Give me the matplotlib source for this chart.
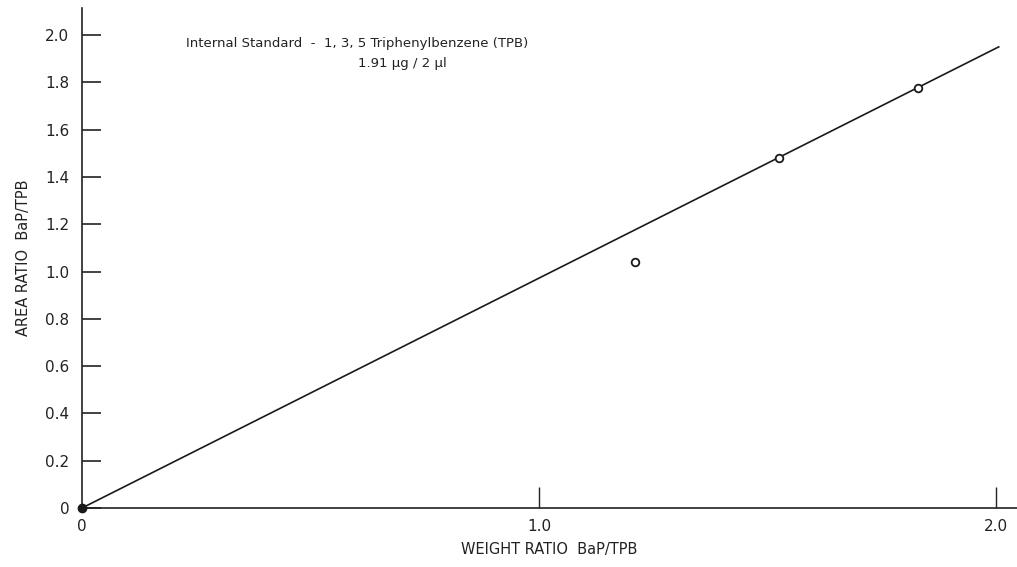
import matplotlib.pyplot as plt
import numpy as np

weight_ratio = [1.21, 1.525, 1.83]
area_ratio = [1.04, 1.48, 1.775]
fit_slope = 0.972
fit_x_end = 2.006
y_ticks = [0, 0.2, 0.4, 0.6, 0.8, 1.0, 1.2, 1.4, 1.6, 1.8, 2.0]
y_tick_labels = ['0', '0.2', '0.4', '0.6', '0.8', '1.0', '1.2', '1.4', '1.6', '1.8', '2.0']
x_ticks = [0, 1.0, 2.0]
x_tick_labels = ['0', '1.0', '2.0']

plt.rcParams['font.family'] = ['Liberation Sans Narrow', 'DejaVu Sans Condensed', 'DejaVu Sans']

fig = plt.figure(figsize=(10.17, 5.67), dpi=100)
ax = fig.add_axes([82 / 1017, 59 / 567, 935 / 1017, 500 / 567])
xmax = 935 / 457
ymax = 500 / 236.5
ax.set_xlim(0, xmax)
ax.set_ylim(0, ymax)

for s in ['top', 'right']:
    ax.spines[s].set_visible(False)
for s in ['left', 'bottom']:
    ax.spines[s].set_linewidth(1.2)
    ax.spines[s].set_color('#222222')

# calibration line through origin
xs = np.array([0, fit_x_end])
ax.plot(xs, fit_slope * xs, color='#1a1a1a', lw=1.2, clip_on=False)
ax.plot(weight_ratio, area_ratio, 'o', mfc='white', mec='#1a1a1a', mew=1.3, ms=5.5)
ax.plot([0], [0], 'o', color='#1a1a1a', ms=6, clip_on=False, zorder=5)

ax.set_yticks(y_ticks)
ax.set_yticklabels(y_tick_labels)
ax.tick_params(axis='y', direction='in', length=14, width=1.2, pad=9, labelsize=11, colors='#222222')
ax.set_xticks(x_ticks)
ax.set_xticklabels(x_tick_labels)
ax.tick_params(axis='x', direction='in', length=15, width=1.0, pad=8, labelsize=11, colors='#222222')
ax.xaxis.get_major_ticks()[0].tick1line.set_visible(False)

ax.set_xlabel('WEIGHT RATIO  BaP/TPB', fontsize=10.5, color='#222222', labelpad=6)
ax.set_ylabel('AREA RATIO  BaP/TPB', fontsize=10.5, color='#222222', labelpad=10)

fig.text(186 / 1017, 1 - 43 / 567, 'Internal Standard  -  1, 3, 5 Triphenylbenzene (TPB)',
         fontsize=9.5, va='center', ha='left', color='#222222')
fig.text(358 / 1017, 1 - 63 / 567, '1.91 µg / 2 µl',
         fontsize=9.5, va='center', ha='left', color='#222222')

fig.savefig('out.png', dpi=100)
